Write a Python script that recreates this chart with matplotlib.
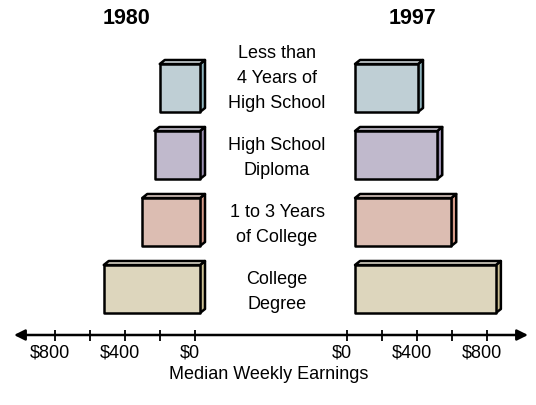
import numpy as np
import matplotlib.pyplot as plt
from matplotlib.patches import Polygon

plt.rcParams['font.family'] = ['Liberation Sans', 'DejaVu Sans']

# data
categories = ['Less than\n4 Years of\nHigh School', 'High School\nDiploma',
              '1 to 3 Years\nof College', 'College\nDegree']
earn_1980 = [230, 260, 330, 550]
earn_1997 = [360, 470, 550, 805]
tick_values = [800, 600, 400, 200, 0]
tick_labels = ['$800', '', '$400', '', '$0']

face_colors = ['#bfcfd5', '#c0b9cc', '#dcbdb2', '#ddd6bd']
side_colors = ['#8fb3bd', '#9a8fb0', '#d49a88', '#cbbf93']
top_colors = ['#dfe8eb', '#dcd6e3', '#efdcd4', '#eee9da']

# layout (x in dollars, y in pixel rows)
px = 0.175               # pixels per dollar
right_zero = 152 / px    # where the 1997 scale starts
left_gap = 5 / px
right_gap = 8 / px
depth_x = 5 / px
depth_y = 4
bar_h = 48
row_top = 65
row_step = 67
axis_y = 336

fig = plt.figure(figsize=(5.36, 4.06), dpi=100)
ax = fig.add_axes([0, 0, 1, 1])
ax.set_xlim(-195 / px, (536 - 195) / px)
ax.set_ylim(406, 0)
ax.axis('off')


def box(x0, x1, y0, i):
    y1 = y0 + bar_h
    front = Polygon([(x0, y0), (x1, y0), (x1, y1), (x0, y1)],
                    facecolor=face_colors[i], edgecolor='black', lw=1.8, joinstyle='round')
    top = Polygon([(x0, y0), (x0 + depth_x, y0 - depth_y), (x1 + depth_x, y0 - depth_y), (x1, y0)],
                  facecolor=top_colors[i], edgecolor='black', lw=1.8, joinstyle='round')
    side = Polygon([(x1, y0), (x1 + depth_x, y0 - depth_y), (x1 + depth_x, y1 - depth_y), (x1, y1)],
                   facecolor=side_colors[i], edgecolor='black', lw=1.8, joinstyle='round')
    for p in (side, top, front):
        ax.add_patch(p)


for i, cat in enumerate(categories):
    y0 = row_top + i * row_step
    box(left_gap - earn_1980[i], left_gap, y0, i)
    box(right_zero + right_gap, right_zero + right_gap + earn_1997[i], y0, i)
    ax.text(82 / px, y0 + bar_h - 1, cat, ha='center', va='bottom',
            fontsize=13, linespacing=1.6)

# headers
ax.text(-68 / px, 18, '1980', ha='center', va='center', fontsize=15.5, fontweight='bold')
ax.text(218 / px, 18, '1997', ha='center', va='center', fontsize=15.5, fontweight='bold')

# axis with arrows
ax.annotate('', xy=(-181 / px, axis_y), xytext=(333 / px, axis_y),
            arrowprops=dict(arrowstyle='<|-|>', color='black', lw=1.8,
                            mutation_scale=16, shrinkA=0, shrinkB=0))
left_ticks = [-v for v in tick_values]
right_ticks = [right_zero + v for v in tick_values[::-1]]
ax.vlines(left_ticks + right_ticks, axis_y - 5, axis_y + 6, color='black', lw=1.3)
for x, lab in zip(left_ticks + right_ticks, tick_labels + tick_labels[::-1]):
    ax.annotate(lab, (x, 353), xytext=(-4, 0), textcoords='offset points',
                ha='center', va='center', fontsize=13)

ax.text(74 / px, 375, 'Median Weekly Earnings', ha='center', va='center', fontsize=13)

fig.savefig('out.png', dpi=100)
